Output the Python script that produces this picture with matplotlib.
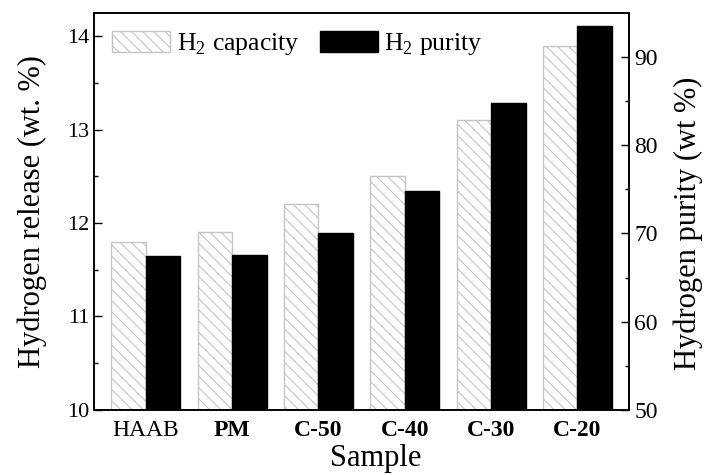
import numpy as np
import matplotlib
matplotlib.use("Agg")
import matplotlib.pyplot as plt

samples = ["HAAB", "PM", "C-50", "C-40", "C-30", "C-20"]
capacity = [11.8, 11.9, 12.2, 12.5, 13.1, 13.9]   # wt. %
purity = [67.4, 67.5, 70.0, 74.8, 84.8, 93.5]     # wt %

plt.rcParams['font.family'] = 'Liberation Serif'
plt.rcParams['mathtext.fontset'] = 'custom'
plt.rcParams['mathtext.rm'] = 'Liberation Serif'
plt.rcParams['hatch.linewidth'] = 0.8

fig = plt.figure(figsize=(7.07, 4.75), dpi=100)
ax = fig.add_axes([0.133, 0.137, 0.757, 0.836])
ax2 = ax.twinx()

x = np.arange(len(samples))
w = 0.4
b1 = ax.bar(x - w / 2, np.array(capacity) - 10, w, bottom=10, color='white',
            edgecolor='#c4c4c4', hatch='\\\\\\', linewidth=1)
b2 = ax2.bar(x + w / 2, np.array(purity) - 50, w, bottom=50, color='black',
             edgecolor='black', linewidth=1)

ax.set_xlim(-0.6, 5.6)
ax.set_ylim(10, 14.25)
ax2.set_ylim(50, 95)
ax.set_yticks([10, 11, 12, 13, 14])
ax.set_yticks(np.arange(10.5, 14.2, 1), minor=True)
ax2.set_yticks([50, 60, 70, 80, 90])
ax2.set_yticks(np.arange(55, 95, 10), minor=True)

ax.set_xticks(x)
ax.set_xticklabels(samples, fontsize=17)
for lab in ax.get_xticklabels()[1:]:
    lab.set_fontweight('bold')
ax.tick_params(axis='x', length=0, pad=7)
ax.tick_params(axis='y', which='major', direction='in', length=6, width=1, labelsize=16)
ax.tick_params(axis='y', which='minor', direction='in', length=3, width=1)
ax2.tick_params(axis='y', which='major', direction='in', length=6, width=1, labelsize=17)
ax2.tick_params(axis='y', which='minor', direction='in', length=3, width=1)

for a in (ax, ax2):
    for s in a.spines.values():
        s.set_linewidth(1.2)

ax.set_xlabel('Sample', fontsize=22)
ax.xaxis.set_label_coords(0.527, -0.085)
ax.set_ylabel('Hydrogen release (wt. %)', fontsize=22, labelpad=14)
ax2.set_ylabel('Hydrogen purity (wt %)', fontsize=22)
ax2.yaxis.set_label_coords(1.082, 0.47)

ax.legend([b1, b2], ['H$_2$ capacity', 'H$_2$ purity'], loc='upper left', ncol=2,
          frameon=False, fontsize=18.5, handlelength=2.26, handleheight=0.9,
          columnspacing=0.8, handletextpad=0.25, borderaxespad=0.3,
          bbox_to_anchor=(0.0, 1.0))

fig.savefig('out.png', dpi=100)
